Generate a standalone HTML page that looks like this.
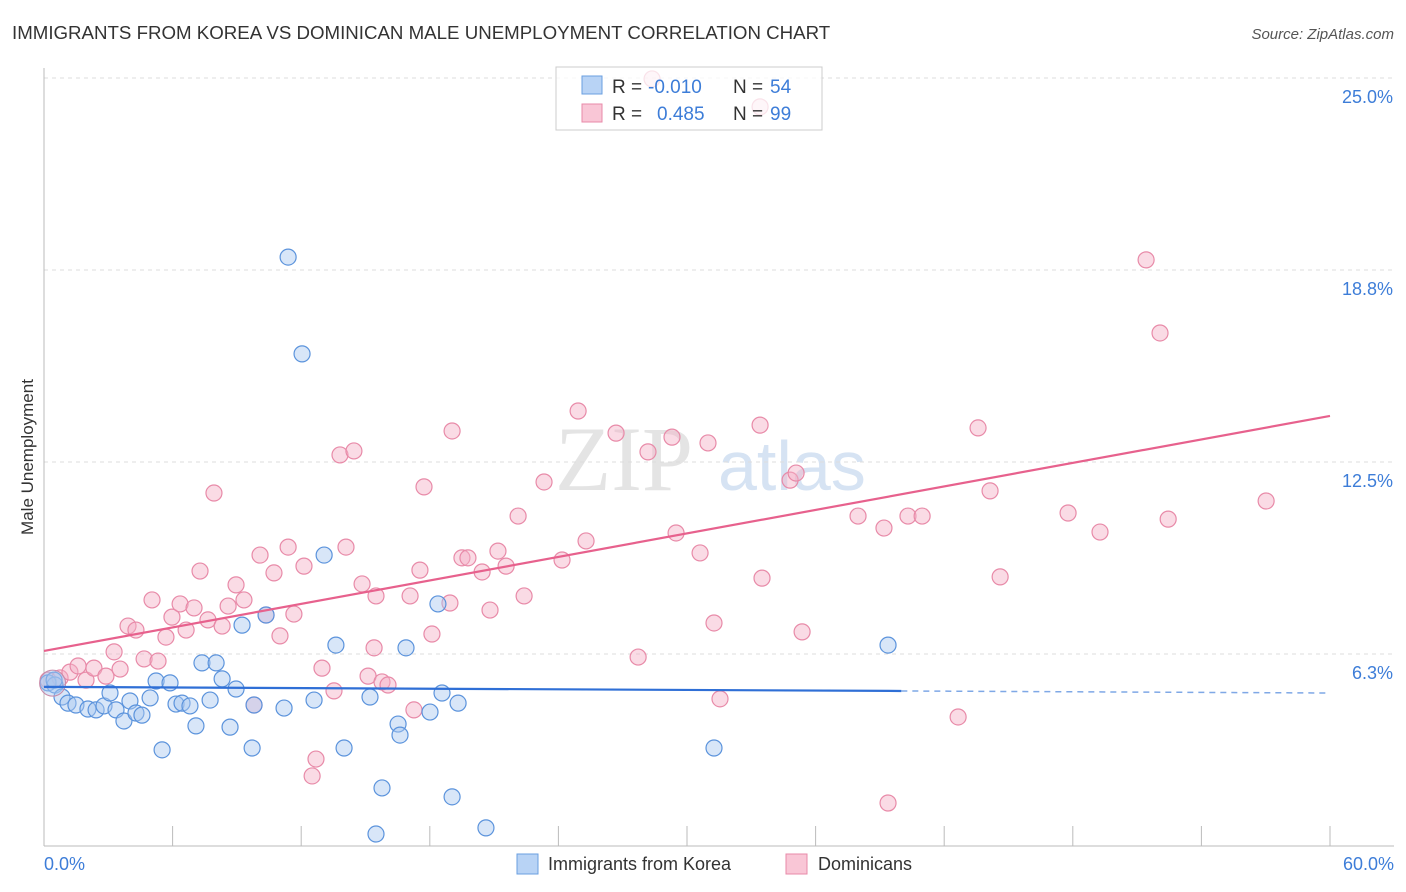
<!DOCTYPE html>
<html><head><meta charset="utf-8">
<style>
body{margin:0;background:#fff;font-family:"Liberation Sans",sans-serif;}
svg{display:block}
</style></head>
<body>
<svg id="chart" width="1406" height="892">
<text x="12" y="39" font-size="18.7" fill="#333">IMMIGRANTS FROM KOREA VS DOMINICAN MALE UNEMPLOYMENT CORRELATION CHART</text>
<text x="1394" y="39" font-size="15" fill="#555" font-style="italic" text-anchor="end">Source: ZipAtlas.com</text>
<text transform="translate(33,457) rotate(-90)" font-size="17" fill="#333" text-anchor="middle">Male Unemployment</text>
<g><text x="555" y="490" font-size="92" fill="#e4e4e4" font-family="Liberation Serif,serif">ZIP</text><text x="718" y="490" font-size="70" fill="#d6e3f3">atlas</text></g>
<g id="grid"></g><g id="marks"></g>
<g>
<rect x="556" y="67" width="266" height="63" fill="#fff" fill-opacity="0.75" stroke="#ccc"/>
<rect x="582" y="76" width="20" height="18" fill="#b8d3f5" stroke="#6a9fe0"/>
<rect x="582" y="104" width="20" height="18" fill="#f9c6d6" stroke="#e88aa8"/>
<text x="612" y="93" font-size="19" fill="#333">R =</text>
<text x="648" y="93" font-size="19" fill="#3d7dd8">-0.010</text>
<text x="733" y="93" font-size="19" fill="#333">N =</text>
<text x="770" y="93" font-size="19" fill="#3d7dd8">54</text>
<text x="612" y="120" font-size="19" fill="#333">R =</text>
<text x="657" y="120" font-size="19" fill="#3d7dd8">0.485</text>
<text x="733" y="120" font-size="19" fill="#333">N =</text>
<text x="770" y="120" font-size="19" fill="#3d7dd8">99</text>
</g>
<g>
<rect x="517" y="854" width="21" height="20" fill="#b8d3f5" stroke="#6a9fe0"/>
<text x="548" y="870" font-size="18" fill="#333">Immigrants from Korea</text>
<rect x="786" y="854" width="21" height="20" fill="#f9c6d6" stroke="#e88aa8"/>
<text x="818" y="870" font-size="18" fill="#333">Dominicans</text>
</g>
</svg>
<script>
const yTicks=[6.25,12.5,18.75,25];
const yTickLabels=["6.3%","12.5%","18.8%","25.0%"];
const xTickCount=10;
const blueX=[0.19,0.51,0.84,1.12,1.49,2.05,2.43,2.80,3.08,3.36,3.73,4.01,4.29,4.57,4.95,5.23,5.51,5.88,6.16,6.44,6.81,7.09,7.37,7.75,8.03,8.31,8.68,8.96,9.24,9.71,9.80,10.36,11.20,11.39,12.04,12.60,13.07,13.62,14.00,15.21,15.49,15.77,16.52,16.61,16.89,18.01,18.38,18.57,19.04,19.32,20.62,31.26,39.38,0.47];
const blueY=[5.31,5.24,4.85,4.65,4.59,4.46,4.43,4.56,4.98,4.43,4.07,4.72,4.33,4.26,4.82,5.37,3.13,5.31,4.62,4.65,4.56,3.91,5.96,4.75,5.96,5.44,3.87,5.11,7.19,3.19,4.59,7.52,4.49,19.17,16.02,4.75,9.47,6.54,3.19,4.85,0.39,1.89,3.97,3.61,6.45,4.36,7.88,4.98,1.60,4.65,0.59,3.19,6.54,5.40];
const pinkX=[0.19,0.75,1.21,1.59,1.96,2.33,2.89,3.27,3.55,3.92,4.29,4.67,5.04,5.32,5.69,5.97,6.35,6.63,7.00,7.28,7.65,7.93,8.31,8.59,8.96,9.33,9.80,10.08,10.36,10.73,11.01,11.39,11.66,12.13,12.51,12.69,12.97,13.53,13.81,14.09,14.46,14.84,15.12,15.40,15.49,15.77,16.05,17.08,17.26,17.54,17.73,18.10,18.94,19.04,19.50,19.78,20.44,20.81,21.18,21.56,22.12,22.40,23.33,24.17,24.92,25.29,26.69,27.72,28.18,28.37,29.30,29.49,30.61,30.98,31.26,31.54,33.41,33.50,34.81,35.09,35.37,37.98,39.19,39.38,40.31,40.97,42.65,43.58,44.14,44.61,47.78,49.27,51.42,52.07,52.45,57.02,33.41];
const pinkY=[5.40,5.47,5.66,5.86,5.40,5.79,5.53,6.32,5.76,7.16,7.03,6.09,8.01,6.02,6.80,7.45,7.88,7.03,7.75,8.95,7.36,11.49,7.16,7.81,8.50,8.01,4.59,9.47,7.52,8.89,6.84,9.73,7.55,9.11,2.28,2.83,5.79,5.05,12.73,9.73,12.86,8.53,5.53,6.45,8.14,5.34,5.24,8.14,4.43,8.98,11.69,6.90,7.91,13.51,9.38,9.38,8.92,7.68,9.60,9.11,10.74,8.14,11.85,9.31,14.16,9.93,13.44,6.15,12.83,24.97,13.31,10.19,9.54,13.12,7.26,4.79,13.70,8.72,11.91,12.14,6.97,10.74,10.35,1.40,10.74,10.74,4.20,13.61,11.56,8.76,10.84,10.22,19.08,16.70,10.64,11.23,24.06];
const blueTrend=[5.18,4.98];
const blueSolidEnd=40.0;
const pinkTrend=[6.35,14.0];
const NS="http://www.w3.org/2000/svg";
const xs=v=>44+v*(1286/60);
const ys=v=>846-v*30.72;
function mk(t,a,p){const e=document.createElementNS(NS,t);for(const k in a)e.setAttribute(k,a[k]);p.appendChild(e);return e;}
const grid=document.getElementById('grid'),marks=document.getElementById('marks');
yTicks.forEach((t,i)=>{
 const l=mk('line',{x1:44,x2:1394,y1:ys(t),y2:ys(t),stroke:'#ddd','stroke-dasharray':'4,4'},grid);
 
 
 const tx=mk('text',{x:1393,y:ys(t)+25,'font-size':18,fill:'#3d7dd8','text-anchor':'end'},grid);
 tx.textContent=yTickLabels[i];
 
 
});
const ax=mk('line',{x1:44,x2:44,y1:68,y2:846,stroke:'#bbb'},grid);


const bx=mk('line',{x1:44,x2:1394,y1:846,y2:846,stroke:'#bbb'},grid);


for(let i=0;i<=xTickCount;i++){
 const x=xs(i*60/xTickCount);
 const t=mk('line',{x1:x,x2:x,y1:826,y2:846,stroke:'#bbb'},grid);
 
 
}
const xl0=mk('text',{x:44,y:870,'font-size':18,fill:'#3d7dd8'},grid);xl0.textContent='0.0%';


const xl1=mk('text',{x:1394,y:870,'font-size':18,fill:'#3d7dd8','text-anchor':'end'},grid);xl1.textContent='60.0%';


function pts(X,Y,fill,stroke,name){X.forEach((x,i)=>{
 const c=mk('circle',{cx:xs(x),cy:ys(Y[i]),r:8,fill:fill,'fill-opacity':0.45,stroke:stroke,'stroke-width':1.2},marks);
 
 
});}
pts(pinkX,pinkY,'#f5b0c6','#e88aa8','dominican-point');
pts(blueX,blueY,'#a9c8f0','#5b93dc','korea-point');
const big=mk('circle',{cx:xs(0.4),cy:ys(5.3),r:13,fill:'#a9c8f0','fill-opacity':0.45,stroke:'#c88aa8'},marks);


const lerp=(a,x)=>a[0]+(a[1]-a[0])*x/60;
const pl=mk('line',{x1:xs(0),y1:ys(pinkTrend[0]),x2:xs(60),y2:ys(pinkTrend[1]),stroke:'#e7618d','stroke-width':2.2},marks);


const bl=mk('line',{x1:xs(0),y1:ys(blueTrend[0]),x2:xs(blueSolidEnd),y2:ys(lerp(blueTrend,blueSolidEnd)),stroke:'#2f6fd6','stroke-width':2.2},marks);


const bd=mk('line',{x1:xs(blueSolidEnd),y1:ys(lerp(blueTrend,blueSolidEnd)),x2:xs(60),y2:ys(blueTrend[1]),stroke:'#7fa8e6','stroke-width':1.5,'stroke-dasharray':'6,5'},marks);


</script>
</body></html>
